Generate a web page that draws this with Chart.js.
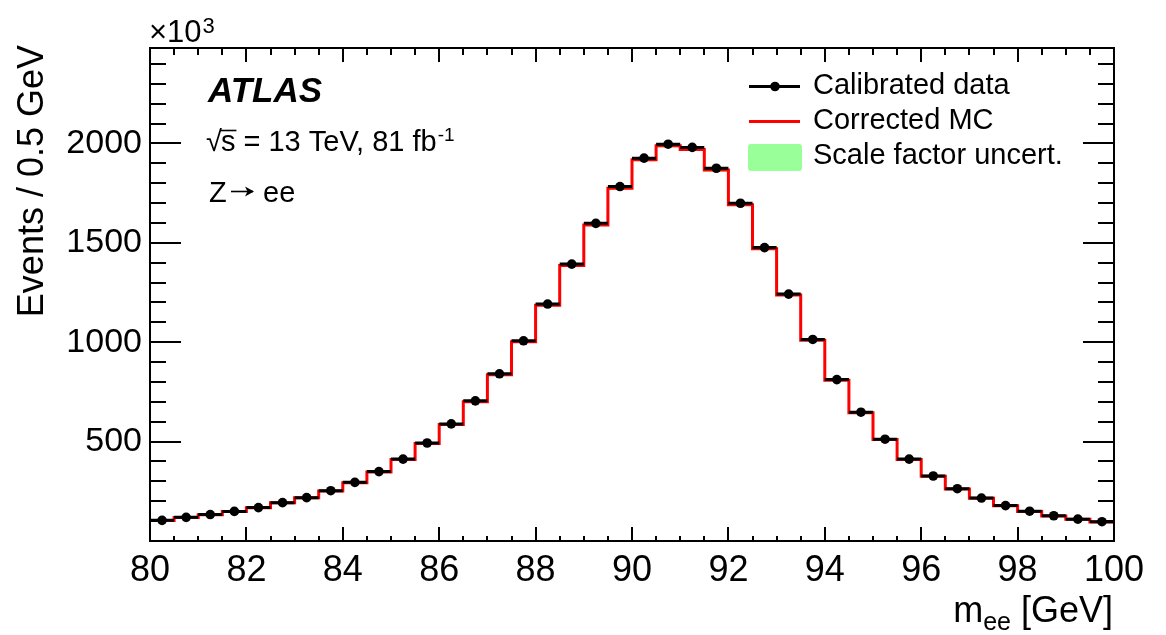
<!DOCTYPE html>
<html>
<head>
<meta charset="utf-8">
<script src="https://cdn.jsdelivr.net/npm/chart.js@4.4.0/dist/chart.umd.min.js"></script>
<style>
  html, body { margin: 0; padding: 0; background: #fff; }
  #wrap { width: 1166px; height: 635px; position: relative; }
</style>
</head>
<body>
<div id="wrap"><canvas id="c"></canvas></div>
<script>
// Di-electron invariant mass, 0.5 GeV bins from 80 to 100 GeV (counts in units of 10^3)
const binLow = 80;
const binWidth = 0.5;
const dataCounts = [104, 119, 133, 149, 168, 193, 218, 253, 295, 349,
                    412, 493, 589, 705, 841, 1007, 1192, 1393, 1598, 1783,
                    1926, 1996, 1980, 1875, 1699, 1476, 1242, 1014, 812, 648,
                    512, 412, 327, 263, 216, 178, 150, 127, 110, 97];
const mcCounts   = [103, 118, 132, 148, 167, 192, 217, 251, 293, 347,
                    410, 490, 586, 701, 836, 1002, 1186, 1386, 1590, 1775,
                    1918, 1988, 1970, 1866, 1692, 1470, 1237, 1010, 809, 645,
                    510, 410, 326, 262, 215, 177, 149, 126, 109, 96];
// absolute scale-factor uncertainty on the corrected MC, per bin
const sfUncert   = [0, 0, 1, 1, 1, 1, 1, 1, 1, 1,
                    2, 2, 2, 3, 3, 4, 5, 6, 6, 7,
                    8, 8, 8, 7, 7, 6, 5, 4, 3, 3,
                    2, 2, 1, 1, 1, 1, 1, 1, 0, 0];
const xTickLabels = [80, 82, 84, 86, 88, 90, 92, 94, 96, 98, 100];
const yTickLabels = [500, 1000, 1500, 2000];
const xRange = [80, 100];
const yRange = [0, 2480];

const FONT = "'Liberation Sans', Arial, Helvetica, sans-serif";

// histogram outline: one point per bin low edge, plus the closing upper edge
function stepPoints(arr) {
  const pts = arr.map((v, i) => ({ x: binLow + i * binWidth, y: v }));
  pts.push({ x: binLow + arr.length * binWidth, y: arr[arr.length - 1] });
  return pts;
}
// horizontal bin-width bars for the data, separated by gaps
function binBars(arr) {
  const pts = [];
  arr.forEach((v, i) => {
    const lo = binLow + i * binWidth;
    pts.push({ x: lo, y: v }, { x: lo + binWidth, y: v }, { x: lo + binWidth, y: null });
  });
  return pts;
}
const dataCentres = dataCounts.map((v, i) => ({ x: binLow + (i + 0.5) * binWidth, y: v }));
const bandUp = mcCounts.map((v, i) => v + sfUncert[i]);
const bandDown = mcCounts.map((v, i) => v - sfUncert[i]);

// inward-pointing ticks on all four sides plus the frame
const framePlugin = {
  id: 'frame',
  afterDraw(chart) {
    const { ctx, chartArea: a, scales: { x, y } } = chart;
    ctx.save();
    ctx.strokeStyle = '#000';
    ctx.lineWidth = 2;
    ctx.beginPath();
    for (let v = xRange[0]; v <= xRange[1] + 1e-9; v += 0.5) {
      const px = Math.round(x.getPixelForValue(v));
      const major = Math.abs(v / 2 - Math.round(v / 2)) < 1e-6;
      const lb = major ? 14 : 5, lt = major ? 14 : 7;
      ctx.moveTo(px, a.bottom); ctx.lineTo(px, a.bottom - lb);
      ctx.moveTo(px, a.top); ctx.lineTo(px, a.top + lt);
    }
    for (let v = 0; v <= yRange[1]; v += 100) {
      const py = Math.round(y.getPixelForValue(v));
      const major = v % 500 === 0;
      const l = major ? 31 : 16;
      ctx.moveTo(a.left, py); ctx.lineTo(a.left + l, py);
      ctx.moveTo(a.right, py); ctx.lineTo(a.right - l, py);
    }
    ctx.stroke();
    ctx.lineWidth = 2;
    ctx.strokeRect(a.left, a.top, a.right - a.left, a.bottom - a.top);
    ctx.restore();
  }
};

// labels, titles and legend
const textPlugin = {
  id: 'annotations',
  afterDraw(chart) {
    const { ctx, chartArea: a } = chart;
    ctx.save();
    ctx.fillStyle = '#000';
    ctx.strokeStyle = '#000';
    ctx.textBaseline = 'alphabetic';
    ctx.textAlign = 'left';

    // axis multiplier
    ctx.font = `31px ${FONT}`;
    ctx.fillText('\u00d710', 149, 41.5);
    const w10 = ctx.measureText('\u00d710').width;
    ctx.font = `22px ${FONT}`;
    ctx.fillText('3', 149 + w10 + 1, 33);

    // experiment label
    ctx.font = `italic bold 35px ${FONT}`;
    ctx.fillText('ATLAS', 208, 101.5);

    // energy / luminosity
    ctx.font = `29px ${FONT}`;
    ctx.fillText('\u221a', 206, 151);
    const wr = ctx.measureText('\u221a').width;
    const sx = 206 + wr - 1;
    ctx.fillText('s = 13 TeV, 81 fb', sx, 151);
    const ws = ctx.measureText('s').width;
    ctx.lineWidth = 1.6;
    ctx.beginPath();
    ctx.moveTo(sx - 1, 130.5); ctx.lineTo(sx + ws + 1, 130.5);
    ctx.stroke();
    const wl = ctx.measureText('s = 13 TeV, 81 fb').width;
    ctx.font = `19px ${FONT}`;
    ctx.fillText('-1', sx + wl + 1, 141);

    // process label with a long arrow
    ctx.font = `29px ${FONT}`;
    ctx.fillText('Z', 209, 201.5);
    ctx.lineWidth = 1.6;
    ctx.beginPath();
    ctx.moveTo(231, 191.5); ctx.lineTo(253, 191.5);
    ctx.stroke();
    ctx.beginPath();
    ctx.moveTo(254, 191.5); ctx.lineTo(245, 186.5); ctx.lineTo(247.5, 191.5); ctx.lineTo(245, 196.5);
    ctx.closePath(); ctx.fill();
    ctx.fillText('ee', 263, 201.5);

    // legend
    ctx.lineWidth = 3;
    ctx.strokeStyle = '#000';
    ctx.beginPath(); ctx.moveTo(749, 86.5); ctx.lineTo(800, 86.5); ctx.stroke();
    ctx.beginPath(); ctx.arc(775, 86.5, 4.8, 0, Math.PI * 2); ctx.fill();
    ctx.strokeStyle = '#ff0000';
    ctx.beginPath(); ctx.moveTo(749, 121.5); ctx.lineTo(800, 121.5); ctx.stroke();
    ctx.fillStyle = 'rgb(153,255,153)';
    ctx.beginPath();
    if (ctx.roundRect) ctx.roundRect(748, 144, 54, 27, 3); else ctx.rect(748, 144, 54, 27);
    ctx.fill();
    ctx.fillStyle = '#000';
    ctx.font = `29px ${FONT}`;
    ctx.fillText('Calibrated data', 813, 93.5);
    ctx.fillText('Corrected MC', 813, 128.5);
    ctx.fillText('Scale factor uncert.', 813, 163.5);

    // y-axis title
    ctx.save();
    ctx.translate(43, 45);
    ctx.rotate(-Math.PI / 2);
    ctx.font = `36px ${FONT}`;
    ctx.textAlign = 'right';
    ctx.fillText('Events / 0.5 GeV', 0, 0);
    ctx.restore();

    // x-axis title, right aligned to the frame
    const right = a.right - 1;
    const base = 622;
    ctx.font = `36px ${FONT}`;
    const wTail = ctx.measureText(' [GeV]').width;
    const wm = ctx.measureText('m').width;
    ctx.font = `25px ${FONT}`;
    const wSub = ctx.measureText('ee').width;
    const xStart = right - wTail - wSub - wm;
    ctx.font = `36px ${FONT}`;
    ctx.fillText('m', xStart, base);
    ctx.fillText(' [GeV]', xStart + wm + wSub, base);
    ctx.font = `25px ${FONT}`;
    ctx.fillText('ee', xStart + wm, base + 8);

    ctx.restore();
  }
};

new Chart(document.getElementById('c'), {
  type: 'line',
  data: {
    datasets: [
      { label: 'Calibrated data', data: dataCentres, showLine: false,
        pointRadius: 4.8, pointBackgroundColor: '#000', pointBorderWidth: 0, order: 0 },
      { label: 'data bin width', data: binBars(dataCounts), borderColor: '#000', borderWidth: 3,
        pointRadius: 0, spanGaps: false, order: 1 },
      { label: 'Corrected MC', data: stepPoints(mcCounts), stepped: 'before', borderColor: '#ff0000',
        borderWidth: 3, pointRadius: 0, order: 2 },
      { label: 'Scale factor uncert.', data: stepPoints(bandUp), stepped: 'before', borderWidth: 0,
        pointRadius: 0, fill: '+1', backgroundColor: 'rgb(153,255,153)', order: 3 },
      { label: 'band low', data: stepPoints(bandDown), stepped: 'before', borderWidth: 0,
        pointRadius: 0, fill: false, order: 4 }
    ]
  },
  options: {
    responsive: true,
    maintainAspectRatio: false,
    animation: false,
    events: [],
    layout: { padding: { top: 48, right: 52, left: 0, bottom: 0 } },
    plugins: { legend: { display: false }, tooltip: { enabled: false } },
    scales: {
      x: {
        type: 'linear', position: 'bottom', min: xRange[0], max: xRange[1],
        grid: { display: false, drawTicks: false }, border: { display: false },
        afterBuildTicks: s => { s.ticks = xTickLabels.map(v => ({ value: v })); },
        ticks: { font: { family: FONT, size: 36 }, color: '#000', padding: 8, maxRotation: 0,
                 autoSkip: false, callback: v => String(v) },
        afterFit: s => { s.height = 94; }
      },
      y: {
        type: 'linear', min: yRange[0], max: yRange[1],
        grid: { display: false, drawTicks: false }, border: { display: false },
        afterBuildTicks: s => { s.ticks = yTickLabels.map(v => ({ value: v })); },
        ticks: { font: { family: FONT, size: 34 }, color: '#000', padding: 8, callback: v => String(v) },
        afterFit: s => { s.width = 150; }
      }
    }
  },
  plugins: [framePlugin, textPlugin]
});
</script>
</body>
</html>
